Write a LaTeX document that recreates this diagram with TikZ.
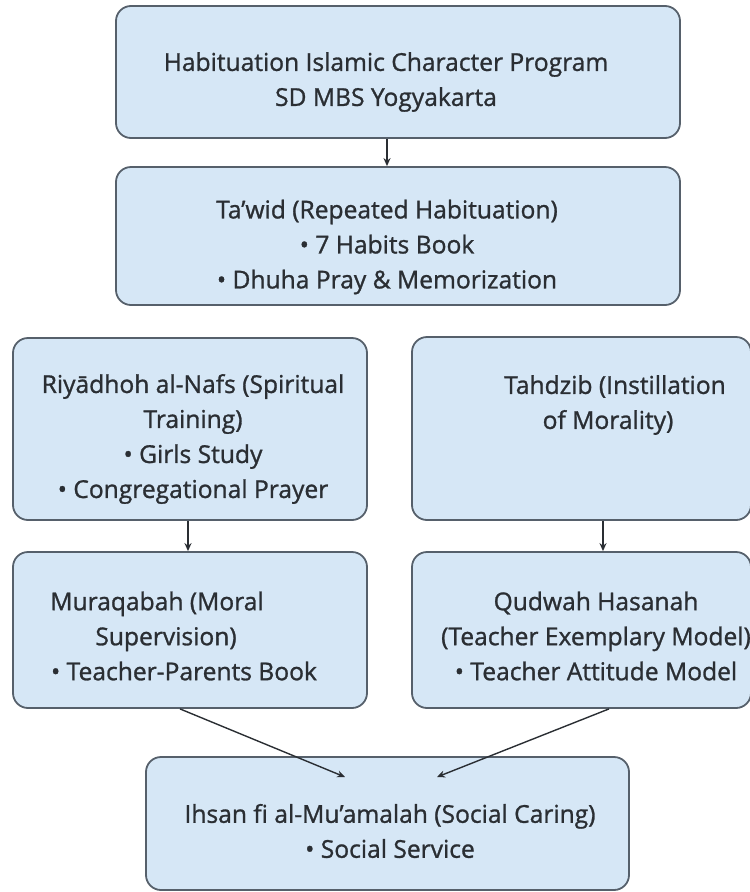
\documentclass[tikz,border=0pt]{standalone}
\usepackage{fontspec}
\newfontfamily\stagefont{Open Sans}[FakeBold=1.1]
\usepackage{tikz}
\usetikzlibrary{arrows.meta}

\definecolor{boxfill}{HTML}{D6E7F6}
\definecolor{boxline}{HTML}{56606B}
\definecolor{inkgray}{HTML}{2A2E33}

\tikzset{
    stage/.style={draw=boxline, line width=1.8pt, fill=boxfill, rounded corners=15pt, inner sep=0pt},
    label/.style={text=inkgray, align=center, font=\stagefont\fontsize{24.6}{35}\selectfont},
    conn/.style={draw=inkgray, line width=1.4pt, -{Stealth[length=8pt,width=7pt]}}
}
% invisible padding at a line end
\newcommand{\padln}[1]{\rule{#1}{0pt}}

\begin{document}
\begin{tikzpicture}[x=1pt, y=-1pt]
        \useasboundingbox (0,0) rectangle (750,892);

        %boxes
        \node[stage, minimum width=564pt, minimum height=132pt] (habit) at (398,72) {};
        \node[stage, minimum width=564pt, minimum height=138pt] (tawid) at (398,236) {};
        \node[stage, minimum width=354pt, minimum height=182pt] (riyadhoh) at (190,429) {};
        \node[stage, minimum width=339pt, minimum height=183pt] (tahdzib) at (581.5,428.5) {};
        \node[stage, minimum width=354pt, minimum height=156pt] (muraqabah) at (190,630) {};
        \node[stage, minimum width=339pt, minimum height=156pt] (qudwah) at (581.5,630) {};
        \node[stage, minimum width=483pt, minimum height=133pt] (ihsan) at (387.5,823.5) {};

        %texts
        \node[label] (habittext) at (386,82) {Habituation Islamic Character Program\\SD MBS Yogyakarta};
        \node[label] (tawidtext) at (387,247) {Ta’wid (Repeated Habituation)\\• 7 Habits Book\\• Dhuha Pray \& Memorization};
        \node[label] (riyadhohtext) at (193,439) {Riyādhoh al-Nafs (Spiritual\\Training)\\• Girls Study\\• Congregational Prayer};
        \node[label] (tahdzibtext) at (615,405) {Tahdzib (Instillation\\of Morality)\padln{14pt}};
        \node[label] (muraqabahtext) at (184,636) {Muraqabah (Moral\padln{54pt}\\Supervision)\padln{36pt}\\• Teacher-Parents Book};
        \node[label] (qudwahtext) at (596,636) {Qudwah Hasanah\\(Teacher Exemplary Model)\\• Teacher Attitude Model};
        \node[label] (ihsantext) at (390,831) {Ihsan fi al-Mu’amalah (Social Caring)\\• Social Service};

        %ends inside the last box
        \coordinate (ihsanleft) at (345,777);
        \coordinate (ihsanright) at (437,777);

        %arrows
        \path
            ([xshift=-11pt]habit.south) edge[conn] ([xshift=-11pt]tawid.north)
            ([xshift=-2pt]riyadhoh.south) edge[conn] ([xshift=-2pt]muraqabah.north)
            ([xshift=21.5pt]tahdzib.south) edge[conn] ([xshift=21.5pt]qudwah.north)
            ([xshift=-10pt]muraqabah.south) edge[conn] (ihsanleft)
            ([xshift=27.5pt]qudwah.south) edge[conn] (ihsanright);

\end{tikzpicture}
\end{document}
